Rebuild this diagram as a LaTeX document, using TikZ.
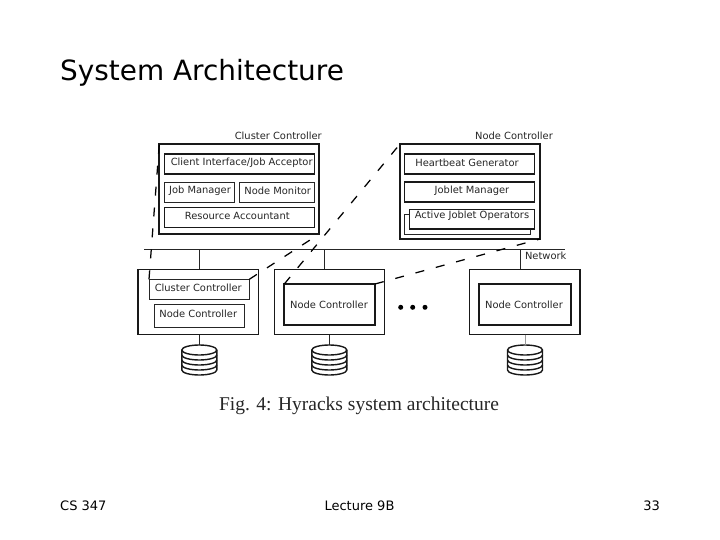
\documentclass[tikz,border=0pt]{standalone}
\usepackage{fontspec}
\setmainfont{DejaVu Sans}
\newfontfamily\capfont{Liberation Serif}
\newcommand{\fontfig}{\fontsize{9.9}{12}\selectfont\color{black!85}}
\tikzset{
  thick box/.style={draw=black!90,line width=1.7pt,fill=white,inner sep=0pt},
  mid box/.style={draw=black!90,line width=1.1pt,fill=white,inner sep=0pt},
  thin box/.style={draw=black!85,line width=0.9pt,fill=white,inner sep=0pt},
  figlabel/.style={inner sep=0pt,font=\fontfig},
  wire/.style={draw=black!85,line width=0.8pt},
  dashlink/.style={draw=black,line width=1.25pt,dash pattern=on 9pt off 12pt},
  slidefoot/.style={inner sep=0pt,font=\fontsize{13}{15}\selectfont},
}
% name, x1, y1, x2, y2, style
\newcommand{\pbox}[6]{\draw[#6] (#2,#3) rectangle (#4,#5);
  \coordinate (#1 nw) at (#2,#3); \coordinate (#1 ne) at (#4,#3);
  \coordinate (#1 sw) at (#2,#5); \coordinate (#1 se) at (#4,#5);}
% centre x, top y
\newcommand{\diskat}[3]{\begin{scope}[shift={(#2,#3)}]
  \coordinate (#1) at (0,0);
  \draw[black!90,line width=1.4pt,fill=white] (-17.5,5) arc[start angle=180,end angle=0,x radius=17.5pt,y radius=5pt]
    -- (17.5,25) arc[start angle=0,end angle=-180,x radius=17.5pt,y radius=5pt] -- cycle;
  \foreach \yy in {5,10,15,20}{
    \draw[black!90,line width=1.4pt] (-17.5,\yy) arc[start angle=180,end angle=360,x radius=17.5pt,y radius=5pt];}
  \end{scope}}
\begin{document}
\begin{tikzpicture}[x=1pt,y=-1pt]
\useasboundingbox (0,0) rectangle (720,540);
\fill[white] (0,0) rectangle (720,540);
\node[anchor=base west,inner sep=0pt,font=\fontsize{27.9}{32}\selectfont] (title) at (60,81) {System Architecture};
\node[slidefoot,anchor=base west] (f1) at (60,510) {CS 347};
\node[slidefoot,anchor=base] (f2) at (359.5,510) {Lecture 9B};
\node[slidefoot,anchor=base east] (f3) at (660,510) {33};
\node[inner sep=0pt,font=\capfont\fontsize{19.5}{22}\selectfont,text=black!85] (cap) at (359,406) {Fig. 4: Hyracks system architecture};

% network
\coordinate (netL) at (144,249); \coordinate (netR) at (565,249);
\draw[wire] (netL) -- (netR);
\coordinate (t1) at (199,249); \coordinate (t2) at (324.3,249); \coordinate (t3) at (520,249);

% lower machines
\pbox{m1}{138}{269.3}{258.7}{334.7}{mid box}
\pbox{m2}{274.3}{269.3}{384.7}{334.7}{mid box}
\pbox{m3}{469.3}{269.3}{580}{334.7}{mid box}
\draw[wire] (t1) -- (199,269.3);
\draw[wire] (t2) -- (324.3,269.3);
\draw[wire] (t3) -- (520,269.3);
\pbox{cci}{149}{279.3}{249.3}{299.3}{thin box}
\pbox{nci}{154}{304}{244.3}{327.7}{thin box}
\pbox{n2}{284.3}{284}{375}{324.7}{thick box}
\pbox{n3}{479.3}{284}{570.7}{324.7}{thick box}
\node[figlabel] (lcc) at (198.3,288) {Cluster Controller};
\node[figlabel] (lnc) at (198.3,314) {Node Controller};
\node[figlabel] (ln2) at (329,305) {Node Controller};
\node[figlabel] (ln3) at (524,305) {Node Controller};

% cluster controller detail
\pbox{cc}{159.3}{144}{319.3}{234}{thick box}
\pbox{ci}{164.3}{154}{314.5}{174}{mid box}
\pbox{jm}{164.5}{182}{234.5}{202}{thin box}
\pbox{nm}{239.3}{182}{314.5}{202}{thin box}
\pbox{ra}{164.3}{207.3}{314.5}{227.3}{mid box}
\node[figlabel] (tcc) at (278.3,135.5) {Cluster Controller};
\node[figlabel] (lci) at (241.7,162.7) {Client Interface/Job Acceptor};
\node[figlabel] (ljm) at (200,190.7) {Job Manager};
\node[figlabel] (lnm) at (277.7,190.7) {Node Monitor};
\node[figlabel] (lra) at (237.3,216) {Resource Accountant};

% node controller detail
\pbox{nc}{400}{144}{540}{239}{mid box}
\draw[black!90,line width=1.7pt] (400,144) -- (540,144) -- (540,239);
\pbox{hb}{404.3}{154}{534.3}{174}{mid box}
\pbox{jl}{404.3}{182}{534.3}{202}{mid box}
\pbox{ab}{404.3}{214}{530}{234.3}{thin box}
\pbox{af}{409.3}{209.3}{534.5}{229}{mid box}
\node[figlabel] (tnc) at (514,135.5) {Node Controller};
\node[figlabel] (lhb) at (467,162.7) {Heartbeat Generator};
\node[figlabel] (ljl) at (472,190.7) {Joblet Manager};
\node[figlabel] (laf) at (472,216) {Active Joblet Operators};
\node[figlabel] (lnet) at (545.7,256) {Network};

% dashed zoom lines
\draw[dashlink] (cci nw) -- (cc nw);
\draw[dashlink] (cci ne) -- (cc se);
\draw[dashlink] (n2 nw) -- (nc nw);
\draw[dashlink] (n2 ne) -- (nc se);

% dots
\fill[black] (400.7,307.3) circle[radius=2.5pt] (412.7,307.3) circle[radius=2.5pt] (425,307.3) circle[radius=2.5pt];

% disks
\diskat{d1}{199.3}{345}
\diskat{d2}{329.3}{345}
\diskat{d3}{525}{345}
\draw[wire] (199.3,334.7) -- (d1);
\draw[wire] (329.3,334.7) -- (d2);
\draw[wire,black!40] (525,334.7) -- (d3);
\end{tikzpicture}
\end{document}
